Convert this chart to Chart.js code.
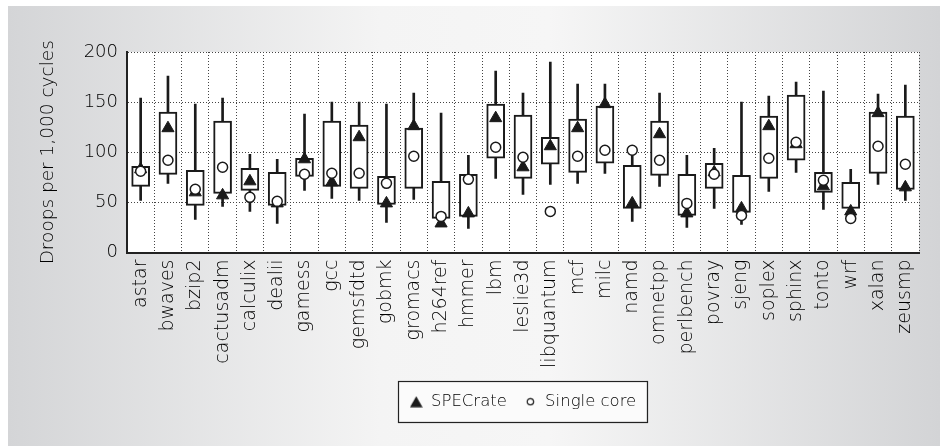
<!DOCTYPE html>
<html>
<head>
<meta charset="utf-8">
<title>Droops per 1,000 cycles</title>
<script src="https://cdn.jsdelivr.net/npm/chart.js@4.4.1/dist/chart.umd.min.js"></script>
<style>
  html, body { margin: 0; padding: 0; background: #fff; }
  #wrap { width: 940px; height: 446px; }
</style>
</head>
<body>
<div id="wrap"><canvas id="droopChart" width="940" height="446"></canvas></div>
<script>
// benchmarks (x axis)
const benchmarks = ['astar', 'bwaves', 'bzip2', 'cactusadm', 'calculix', 'dealii', 'gamess', 'gcc',
    'gemsfdtd', 'gobmk', 'gromacs', 'h264ref', 'hmmer', 'lbm', 'leslie3d', 'libquantum', 'mcf',
    'milc', 'namd', 'omnetpp', 'perlbench', 'povray', 'sjeng', 'soplex', 'sphinx', 'tonto', 'wrf',
    'xalan', 'zeusmp'];

// whiskers (min / max)
const whiskerMin = [52, 69, 33, 46, 41, 29, 62, 54, 52, 30, 53, 27, 24, 74, 58, 68, 69,
    79, 31, 66, 25, 44, 28, 61, 80, 43, 33, 68, 52];
const whiskerMax = [154, 176, 148, 154, 98, 93, 138, 150, 150, 148, 159, 139, 97, 181, 159, 190, 168,
    168, 100, 159, 97, 104, 150, 156, 170, 161, 83, 158, 167];

// boxes (low / high)
const boxMin = [66, 78, 47, 59, 62, 47, 76, 66, 64, 48, 64, 34, 36, 94, 74, 88, 80,
    89, 44, 77, 37, 64, 40, 74, 92, 60, 44, 79, 63];
const boxMax = [86, 140, 82, 131, 84, 80, 94, 131, 127, 76, 124, 71, 78, 148, 137, 115, 133,
    146, 87, 131, 78, 89, 77, 136, 157, 80, 70, 140, 136];

// markers
const specRate = [83, 124, 60, 57, 71, 49, 93, 70, 115, 49, 126, 29, 39, 134, 85, 106, 124,
    148, 49, 118, 39, 80, 44, 126, 108, 66, 41, 139, 65];
const singleCore = [81, 92, 63, 85, 55, 51, 78, 79, 79, 69, 96, 36, 73, 105, 95, 41, 96,
    102, 102, 92, 49, 78, 37, 94, 110, 72, 34, 106, 88];

const yMin = 0;
const yMax = 200;
const yStep = 50;

const FONT = "'DejaVu Sans', 'Liberation Sans', sans-serif";
const WEIGHT = 300;
const INK = '#1a1a1a';
const TEXT = '#000';

Chart.defaults.font.family = FONT;
Chart.defaults.font.weight = WEIGHT;
Chart.defaults.color = TEXT;

// small marker images for the legend
function legendTriangle() {
    const c = document.createElement('canvas');
    c.width = 13; c.height = 12;
    const g = c.getContext('2d');
    g.fillStyle = INK;
    g.beginPath();
    g.moveTo(6.5, 0.5);
    g.lineTo(12.8, 11.5);
    g.lineTo(0.2, 11.5);
    g.closePath();
    g.fill();
    return c;
}
function legendCircle() {
    const c = document.createElement('canvas');
    c.width = 9; c.height = 9;
    const g = c.getContext('2d');
    g.strokeStyle = INK;
    g.lineWidth = 1.2;
    g.fillStyle = '#fff';
    g.beginPath();
    g.arc(4.5, 4.5, 3.2, 0, Math.PI * 2);
    g.fill();
    g.stroke();
    return c;
}

// grey panel behind everything, white plot area
const panelBackground = {
    id: 'panelBackground',
    beforeDraw(chart) {
        const { ctx, width, height, chartArea } = chart;
        ctx.save();
        ctx.fillStyle = '#fff';
        ctx.fillRect(0, 0, width, height);
        const grad = ctx.createLinearGradient(8, 0, width, 0);
        grad.addColorStop(0, '#d4d5d7');
        grad.addColorStop(0.4, '#f4f4f4');
        grad.addColorStop(0.58, '#f6f6f6');
        grad.addColorStop(1, '#d3d4d6');
        ctx.fillStyle = grad;
        ctx.fillRect(8, 6, width - 8, height - 6);
        ctx.fillStyle = '#fff';
        ctx.fillRect(chartArea.left, chartArea.top, chartArea.right - chartArea.left, chartArea.bottom - chartArea.top);
        ctx.restore();
    }
};

// frame around the legend
const legendFrame = {
    id: 'legendFrame',
    beforeDraw(chart) {
        this.paint(chart, true);
    },
    afterDraw(chart) {
        this.paint(chart, false);
    },
    paint(chart, fill) {
        const boxes = chart.legend && chart.legend.legendHitBoxes;
        if (!boxes || !boxes.length) return;
        const left = Math.min(...boxes.map(b => b.left)) - 12;
        const right = Math.max(...boxes.map(b => b.left + b.width)) + 10;
        const top = Math.min(...boxes.map(b => b.top)) - 13;
        const bottom = Math.max(...boxes.map(b => b.top + b.height)) + 11;
        const ctx = chart.ctx;
        ctx.save();
        if (fill) {
            ctx.fillStyle = '#fbfbfb';
            ctx.fillRect(left, top, right - left, bottom - top);
        } else {
            ctx.strokeStyle = '#222';
            ctx.lineWidth = 1.2;
            ctx.strokeRect(Math.round(left) + 0.5, Math.round(top) + 0.5, Math.round(right - left), Math.round(bottom - top));
        }
        ctx.restore();
    }
};

const triImg = legendTriangle();
const circImg = legendCircle();

const ctx = document.getElementById('droopChart').getContext('2d');

const droopChart = new Chart(ctx, {
    data: {
        labels: benchmarks,
        datasets: [
            {
                type: 'line',
                label: 'Single core',
                data: singleCore,
                showLine: false,
                pointStyle: 'circle',
                pointRadius: 5,
                pointHoverRadius: 5,
                pointBackgroundColor: '#fff',
                pointBorderColor: INK,
                pointBorderWidth: 1.5,
                order: 0
            },
            {
                type: 'line',
                label: 'SPECrate',
                data: specRate,
                showLine: false,
                pointStyle: 'triangle',
                pointRadius: 7,
                pointHoverRadius: 7,
                pointBackgroundColor: INK,
                pointBorderColor: INK,
                pointBorderWidth: 1,
                order: 1
            },
            {
                type: 'bar',
                label: 'box',
                data: benchmarks.map((b, i) => [boxMin[i], boxMax[i]]),
                backgroundColor: '#fff',
                borderColor: INK,
                borderWidth: 2,
                borderSkipped: false,
                barThickness: 18,
                grouped: false,
                order: 2
            },
            {
                type: 'bar',
                label: 'range',
                data: benchmarks.map((b, i) => [whiskerMin[i], whiskerMax[i]]),
                backgroundColor: INK,
                borderWidth: 0,
                barThickness: 2,
                grouped: false,
                order: 3
            }
        ]
    },
    options: {
        responsive: false,
        devicePixelRatio: 1,
        animation: false,
        events: [],
        layout: {
            padding: { top: 52, left: 33, right: 21, bottom: 26 }
        },
        scales: {
            x: {
                type: 'category',
                offset: true,
                grid: {
                    offset: true,
                    color: '#444',
                    lineWidth: 1,
                    drawTicks: false
                },
                border: { display: true, color: '#222', width: 2, dash: [1, 2] },
                ticks: {
                    autoSkip: false,
                    minRotation: 90,
                    maxRotation: 90,
                    padding: 7,
                    color: TEXT,
                    font: { size: 19, family: FONT, weight: WEIGHT }
                },
                afterFit(scale) { scale.height = 124; }
            },
            y: {
                min: yMin,
                max: yMax,
                grid: {
                    color: '#444',
                    lineWidth: 1,
                    drawTicks: false
                },
                border: { display: true, color: '#222', width: 2, dash: [1, 2] },
                ticks: {
                    stepSize: yStep,
                    padding: 9,
                    color: TEXT,
                    font: { size: 18, family: FONT, weight: WEIGHT }
                },
                title: {
                    display: true,
                    text: 'Droops per 1,000 cycles',
                    color: TEXT,
                    font: { size: 18.5, family: FONT, weight: WEIGHT },
                    padding: { top: 4, bottom: 4 }
                },
                afterFit(scale) { scale.width = 127 - 33; }
            }
        },
        plugins: {
            tooltip: { enabled: false },
            legend: {
                display: true,
                position: 'bottom',
                fullSize: false,
                labels: {
                    usePointStyle: true,
                    boxWidth: 13,
                    boxHeight: 13,
                    padding: 17,
                    color: TEXT,
                    font: { size: 16.5, family: FONT, weight: WEIGHT },
                    generateLabels() {
                        return [
                            { text: 'SPECrate', pointStyle: triImg, fillStyle: INK, strokeStyle: INK, lineWidth: 0, hidden: false, datasetIndex: 1 },
                            { text: 'Single core', pointStyle: circImg, fillStyle: '#fff', strokeStyle: INK, lineWidth: 0, hidden: false, datasetIndex: 0 }
                        ];
                    }
                }
            }
        }
    },
    plugins: [panelBackground, legendFrame]
});
</script>
</body>
</html>
